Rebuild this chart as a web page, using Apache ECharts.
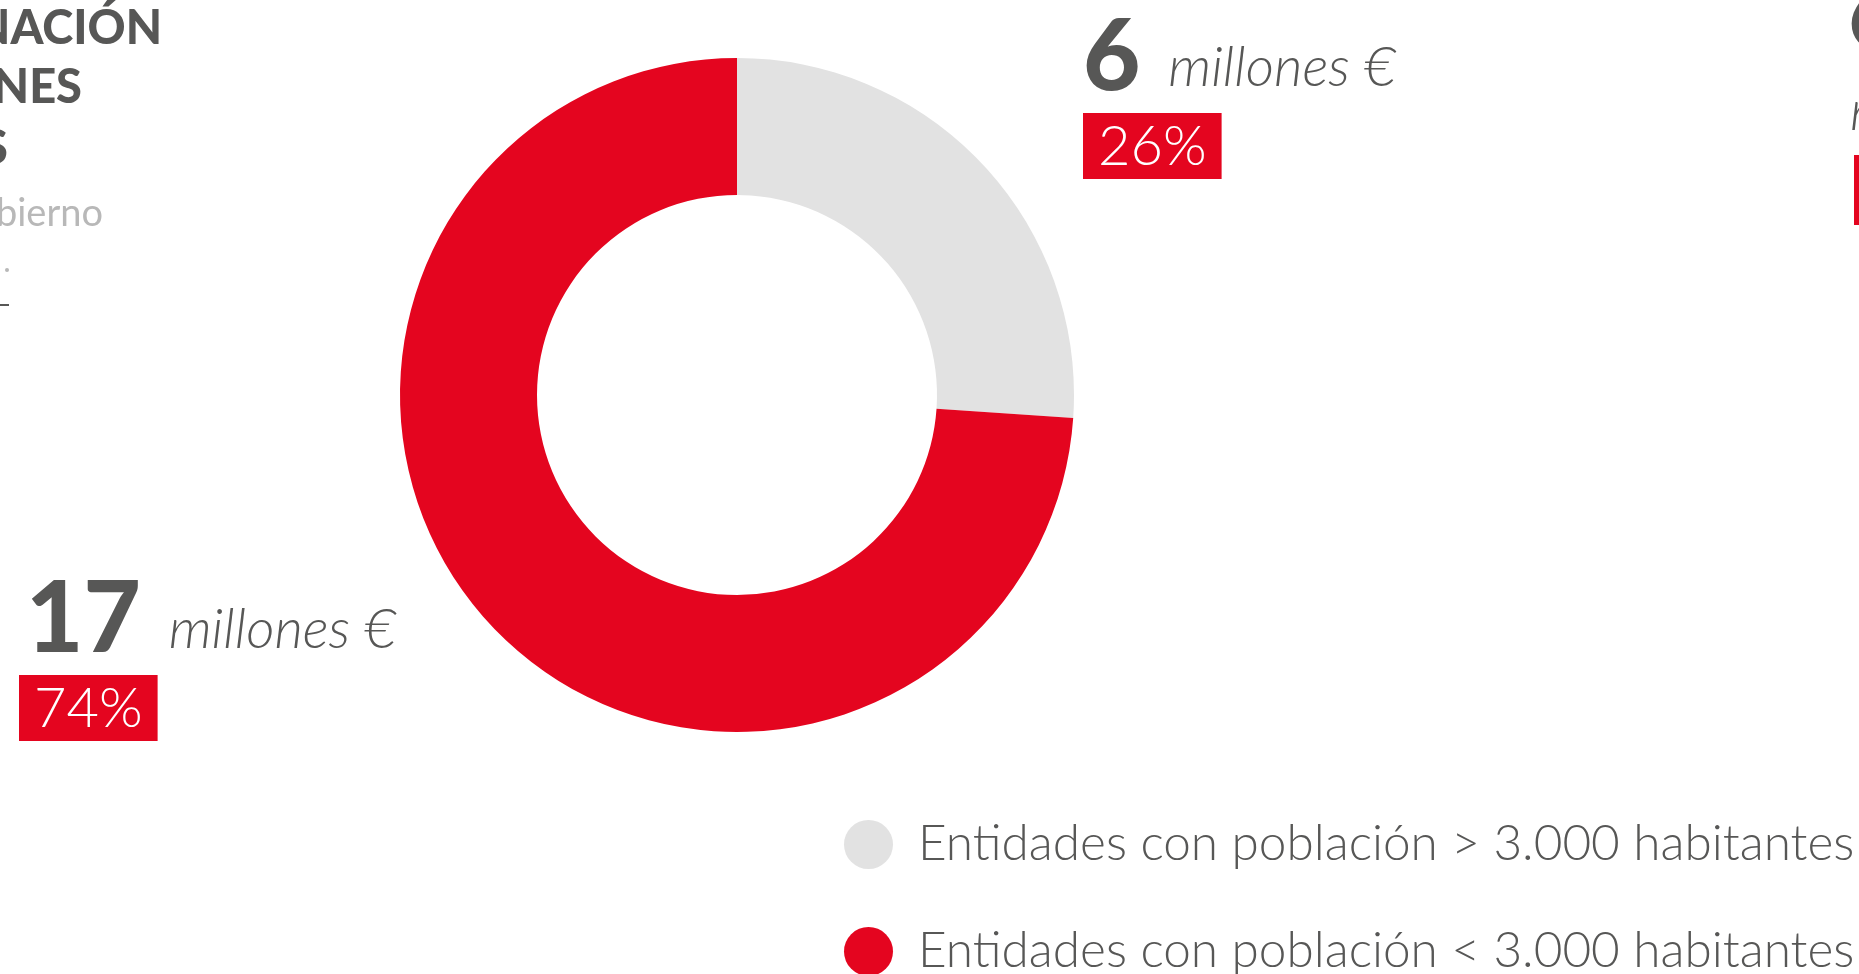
<!DOCTYPE html>
<html>
<head>
<meta charset="utf-8">
<script src="https://cdn.jsdelivr.net/npm/echarts@6/dist/echarts.min.js"></script>
<style>
  html, body { margin: 0; padding: 0; background: #ffffff; }
  #chart { width: 1859px; height: 974px; }
</style>
</head>
<body>
<div id="chart"></div>
<script>
// Subvenciones por tamaño de entidad (millones de euros)
const categories = [
  'Entidades con población > 3.000 habitantes',
  'Entidades con población < 3.000 habitantes'
];
const valuesMillions = [6, 17];
const sliceColors = ['#e2e2e2', '#e4051f'];
const unitLabel = 'millones €';

const DARK = '#575756';
const RED = '#e4051f';
const FONT = 'Lato, "Noto Sans", sans-serif';

const chart = echarts.init(document.getElementById('chart'), null, { renderer: 'canvas' });

// Top-left corner of each slice's callout block
const labelAnchors = [
  { x: 1083, y: -26, numPad: 0 },
  { x: 19, y: 536, numPad: 7 }
];

// One legend block per row so both rows stay in a single column
const legendRow = (name, top) => ({
  orient: 'vertical',
  left: 844,
  top,
  padding: 0,
  icon: 'circle',
  itemWidth: 49,
  itemHeight: 49,
  selectedMode: false,
  textStyle: {
    fontFamily: FONT,
    fontWeight: 300,
    fontSize: 49.5,
    lineHeight: 49,
    color: DARK,
    padding: [8, 0, 0, 20]
  },
  data: [name]
});

const option = {
  backgroundColor: '#ffffff',
  animation: false,
  color: sliceColors,
  legend: [
    legendRow(categories[0], 816),
    legendRow(categories[1], 923)
  ],
  graphic: [
    // Section heading, partly outside the frame on the left
    { type: 'text', style: { text: 'NACIÓN', x: 162, y: 29, align: 'right', verticalAlign: 'middle', font: '900 47px ' + FONT, fill: DARK } },
    { type: 'text', style: { text: 'NES', x: 82, y: 88, align: 'right', verticalAlign: 'middle', font: '900 47px ' + FONT, fill: DARK } },
    { type: 'text', style: { text: 'S', x: 8, y: 149, align: 'right', verticalAlign: 'middle', font: '900 47px ' + FONT, fill: DARK } },
    { type: 'text', style: { text: 'bierno', x: 103, y: 214, align: 'right', verticalAlign: 'middle', font: '400 38px ' + FONT, fill: '#b8b8b8' } },
    { type: 'circle', shape: { cx: 7, cy: 270, r: 2 }, style: { fill: '#b8b8b8' } },
    { type: 'rect', shape: { x: 0, y: 304, width: 9, height: 2 }, style: { fill: DARK } },
    // Next panel's callout, entering from the right edge
    { type: 'text', style: { text: '6', x: 1848, y: 16, align: 'left', verticalAlign: 'middle', font: '900 99px ' + FONT, fill: DARK } },
    { type: 'text', style: { text: unitLabel, x: 1850, y: 112, align: 'left', verticalAlign: 'middle', font: 'italic 300 55px ' + FONT, fill: DARK } },
    { type: 'rect', shape: { x: 1854, y: 155, width: 140, height: 70 }, style: { fill: RED } }
  ],
  series: [{
    type: 'pie',
    center: [737, 395],
    radius: [200, 337],
    startAngle: 90,
    clockwise: true,
    percentPrecision: 0,
    avoidLabelOverlap: false,
    emphasis: { disabled: true },
    labelLine: { show: false },
    label: {
      show: true,
      position: 'outside',
      formatter: p => `{num|${p.value}}{unit| ${unitLabel}}\n{pct|${p.percent}%}`,
      rich: {
        num: { fontFamily: FONT, fontWeight: 900, fontSize: 99, lineHeight: 144, color: DARK, verticalAlign: 'bottom' },
        unit: { fontFamily: FONT, fontStyle: 'italic', fontWeight: 300, fontSize: 55, lineHeight: 60, color: DARK, verticalAlign: 'bottom', padding: [0, 0, 22, 14] },
        pct: { fontFamily: FONT, fontWeight: 300, fontSize: 56, lineHeight: 56, color: '#ffffff', backgroundColor: RED, padding: [6, 15, 4, 15] }
      }
    },
    labelLayout: params => ({
      x: labelAnchors[params.dataIndex].x,
      y: labelAnchors[params.dataIndex].y,
      align: 'left',
      verticalAlign: 'top'
    }),
    data: categories.map((name, i) => ({
      name,
      value: valuesMillions[i],
      itemStyle: { color: sliceColors[i] },
      label: {
        rich: {
          num: { padding: [0, 0, 10, labelAnchors[i].numPad] }
        }
      }
    }))
  }]
};

chart.setOption(option);
</script>
</body>
</html>
